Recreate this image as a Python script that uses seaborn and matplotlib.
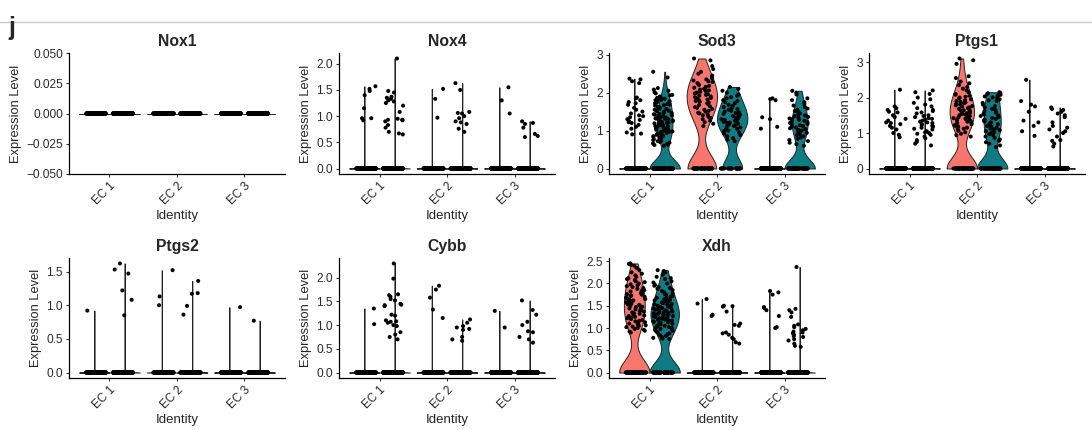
import numpy as np
import pandas as pd
import matplotlib
matplotlib.use("Agg")
import matplotlib.pyplot as plt
import seaborn as sns
from matplotlib.lines import Line2D
from matplotlib.ticker import FuncFormatter, MultipleLocator

sns.set_style("ticks")
plt.rcParams['font.family'] = ['Liberation Sans', 'DejaVu Sans']

clusters = ["EC 1", "EC 2", "EC 3"]
groups = ["A", "B"]
palette = {"A": "#F8766D", "B": "#0F7C84"}

# non-zero cells per cluster / group, zeros given as counts
# order of zero counts: EC1 A, EC1 B, EC2 A, EC2 B, EC3 A, EC3 B
nox1_zeros = [150, 150, 150, 150, 150, 150]

nox4_zeros = [150, 150, 150, 150, 150, 150]
nox4_ec1_a = [1.57, 1.52, 1.48, 1.40, 1.15, 0.96, 0.96, 0.92]
nox4_ec1_b = [2.10, 1.48, 1.45, 1.37, 1.35, 1.33, 1.30, 1.28, 1.25, 1.20, 1.08,
              0.95, 0.93, 0.93, 0.92, 0.90, 0.83, 0.78, 0.70, 0.67, 0.65]
nox4_ec2_a = [1.52, 1.33, 0.97]
nox4_ec2_b = [1.63, 1.50, 1.08, 1.06, 1.05, 1.00, 0.96, 0.90, 0.88, 0.85, 0.76, 0.70]
nox4_ec3_a = [1.55, 1.30, 1.05]
nox4_ec3_b = [0.90, 0.87, 0.85, 0.78, 0.66, 0.62, 0.60]

sod3_zeros = [150, 85, 35, 20, 150, 50]
sod3_ec1_a = [2.37, 2.35, 2.30, 2.25, 1.87, 1.85, 1.80, 1.75, 1.72, 1.68, 1.60, 1.55,
              1.50, 1.45, 1.40, 1.38, 1.35, 1.30, 1.28, 1.25, 1.22, 1.20, 1.15, 1.10,
              1.05, 0.95, 0.92, 0.90]
sod3_ec1_b = [2.55, 2.40, 2.12, 2.08, 2.05, 2.01, 1.98, 1.94, 1.93, 1.90, 1.87, 1.86,
              1.84, 1.81, 1.80, 1.79, 1.77, 1.74, 1.74, 1.72, 1.70, 1.69, 1.67, 1.66,
              1.63, 1.62, 1.61, 1.60, 1.58, 1.57, 1.55, 1.54, 1.52, 1.51, 1.50, 1.48,
              1.47, 1.46, 1.44, 1.43, 1.42, 1.40, 1.39, 1.38, 1.36, 1.35, 1.34, 1.32,
              1.31, 1.30, 1.29, 1.27, 1.26, 1.25, 1.24, 1.22, 1.21, 1.20, 1.19, 1.17,
              1.16, 1.15, 1.14, 1.12, 1.11, 1.10, 1.08, 1.07, 1.06, 1.05, 1.03, 1.02,
              1.01, 1.00, 0.98, 0.97, 0.96, 0.94, 0.93, 0.92, 0.90, 0.89, 0.88, 0.86,
              0.85, 0.84, 0.82, 0.80, 0.78, 0.77, 0.75, 0.73, 0.72, 0.70, 0.68, 0.66,
              0.65, 0.63, 0.62, 0.60]
sod3_ec2_a = [2.90, 2.85, 2.70, 2.62, 2.55, 2.50, 2.45, 2.42, 2.40, 2.38, 2.35, 2.32,
              2.30, 2.28, 2.25, 2.22, 2.20, 2.18, 2.15, 2.13, 2.10, 2.08, 2.06, 2.04,
              2.02, 2.00, 1.98, 1.96, 1.94, 1.92, 1.90, 1.88, 1.86, 1.84, 1.82, 1.80,
              1.78, 1.76, 1.74, 1.72, 1.70, 1.67, 1.64, 1.62, 1.60, 1.57, 1.55, 1.52,
              1.50, 1.47, 1.45, 1.42, 1.40, 1.36, 1.33, 1.30, 1.26, 1.22, 1.18, 1.12]
sod3_ec2_b = [2.15, 2.10, 2.05, 2.00, 1.95, 1.92, 1.88, 1.85, 1.80, 1.78, 1.75, 1.72,
              1.68, 1.65, 1.62, 1.60, 1.57, 1.55, 1.52, 1.50, 1.48, 1.46, 1.44, 1.42,
              1.40, 1.38, 1.36, 1.35, 1.33, 1.31, 1.30, 1.28, 1.26, 1.25, 1.23, 1.21,
              1.20, 1.18, 1.16, 1.14, 1.12, 1.10, 1.08, 1.05, 1.03, 1.00, 0.98, 0.95,
              0.92, 0.88, 0.85, 0.80, 0.76, 0.72]
sod3_ec3_a = [1.85, 1.83, 1.80, 1.35, 1.30, 1.10, 1.05]
sod3_ec3_b = [2.05, 2.00, 1.95, 1.85, 1.80, 1.75, 1.70, 1.66, 1.62, 1.58, 1.55, 1.52,
              1.50, 1.48, 1.45, 1.43, 1.40, 1.38, 1.36, 1.34, 1.32, 1.30, 1.28, 1.26,
              1.24, 1.22, 1.20, 1.18, 1.16, 1.14, 1.12, 1.10, 1.08, 1.06, 1.04, 1.02,
              1.00, 0.97, 0.94, 0.91, 0.88, 0.85, 0.82, 0.78, 0.75, 0.72, 0.68, 0.64, 0.60]

ptgs1_zeros = [150, 150, 45, 45, 150, 150]
ptgs1_ec1_a = [2.22, 1.75, 1.70, 1.65, 1.60, 1.58, 1.50, 1.45, 1.40, 1.35, 1.30, 1.28,
               1.25, 1.20, 1.15, 1.10, 1.00, 0.95, 0.88]
ptgs1_ec1_b = [2.20, 2.15, 2.10, 2.00, 1.95, 1.85, 1.80, 1.75, 1.70, 1.65, 1.62, 1.58,
               1.55, 1.50, 1.48, 1.45, 1.42, 1.40, 1.38, 1.35, 1.32, 1.30, 1.28, 1.25,
               1.22, 1.20, 1.18, 1.15, 1.12, 1.10, 1.05, 1.02, 1.00, 0.98, 0.95, 0.90,
               0.85, 0.80, 0.75, 0.70, 0.65]
ptgs1_ec2_a = [3.10, 3.05, 2.95, 2.60, 2.55, 2.45, 2.40, 2.35, 2.30, 2.25, 2.20, 2.15,
               2.10, 2.08, 2.05, 2.02, 2.00, 1.98, 1.95, 1.92, 1.90, 1.88, 1.86, 1.84,
               1.82, 1.80, 1.78, 1.76, 1.74, 1.72, 1.70, 1.68, 1.66, 1.64, 1.62, 1.60,
               1.58, 1.56, 1.54, 1.52, 1.50, 1.48, 1.46, 1.44, 1.42, 1.40, 1.38, 1.36,
               1.34, 1.32, 1.30, 1.28, 1.25, 1.22, 1.20, 1.18, 1.15, 1.12, 1.10, 1.06,
               1.02, 0.98, 0.94, 0.90]
ptgs1_ec2_b = [2.15, 2.13, 2.12, 2.10, 2.08, 2.07, 2.05, 2.03, 2.00, 1.98, 1.95, 1.92,
               1.90, 1.85, 1.80, 1.76, 1.72, 1.68, 1.65, 1.62, 1.58, 1.55, 1.52, 1.50,
               1.48, 1.45, 1.42, 1.40, 1.38, 1.35, 1.32, 1.30, 1.28, 1.25, 1.22, 1.20,
               1.18, 1.15, 1.12, 1.10, 1.08, 1.05, 1.02, 1.00, 0.97, 0.94, 0.90, 0.86,
               0.82, 0.78, 0.74, 0.70, 0.65, 0.60]
ptgs1_ec3_a = [2.50, 1.90, 1.80, 1.75, 1.60, 1.35, 1.30, 1.20, 1.05, 0.92]
ptgs1_ec3_b = [1.72, 1.68, 1.65, 1.60, 1.55, 1.50, 1.45, 1.30, 1.20, 1.15, 1.10, 1.05,
               1.00, 0.90, 0.80, 0.78, 0.70, 0.62]

ptgs2_zeros = [150, 150, 150, 150, 150, 150]
ptgs2_ec1_a = [0.92]
ptgs2_ec1_b = [1.62, 1.53, 1.47, 1.22, 1.08, 0.85]
ptgs2_ec2_a = [1.52, 1.13, 1.00]
ptgs2_ec2_b = [1.36, 1.18, 1.17, 0.99, 0.86]
ptgs2_ec3_a = [0.97]
ptgs2_ec3_b = [0.77]

cybb_zeros = [150, 150, 150, 150, 150, 150]
cybb_ec1_a = [1.35, 1.02]
cybb_ec1_b = [2.30, 1.98, 1.65, 1.63, 1.60, 1.55, 1.52, 1.45, 1.43, 1.42, 1.40, 1.22,
              1.20, 1.10, 1.08, 1.07, 1.05, 1.00, 0.98, 0.85, 0.80, 0.75, 0.70]
cybb_ec2_a = [1.83, 1.75, 1.58, 1.33, 1.15]
cybb_ec2_b = [1.12, 1.05, 0.98, 0.95, 0.92, 0.90, 0.75, 0.70, 0.67]
cybb_ec3_a = [1.30, 0.95]
cybb_ec3_b = [1.52, 1.32, 1.22, 1.07, 1.00, 0.87, 0.85, 0.75, 0.70, 0.63]

xdh_zeros = [60, 55, 150, 150, 150, 150]
xdh_ec1_a = [2.45, 2.44, 2.42, 2.40, 2.35, 2.30, 2.25, 2.22, 2.18, 2.15, 2.12, 2.10,
             2.08, 2.05, 2.03, 2.00, 1.98, 1.96, 1.94, 1.92, 1.90, 1.88, 1.86, 1.85,
             1.83, 1.82, 1.80, 1.78, 1.76, 1.75, 1.73, 1.72, 1.70, 1.68, 1.66, 1.65,
             1.63, 1.62, 1.60, 1.58, 1.56, 1.55, 1.53, 1.52, 1.50, 1.48, 1.47, 1.45,
             1.44, 1.42, 1.40, 1.38, 1.37, 1.35, 1.33, 1.32, 1.30, 1.28, 1.27, 1.25,
             1.23, 1.22, 1.20, 1.18, 1.16, 1.15, 1.13, 1.12, 1.10, 1.08, 1.06, 1.05,
             1.03, 1.02, 1.00, 0.98, 0.96, 0.94, 0.92, 0.90]
xdh_ec1_b = [2.30, 2.28, 2.25, 2.20, 2.15, 2.12, 2.10, 2.05, 2.02, 2.00, 1.97, 1.95,
             1.92, 1.90, 1.88, 1.85, 1.83, 1.80, 1.78, 1.76, 1.74, 1.72, 1.70, 1.68,
             1.66, 1.65, 1.63, 1.62, 1.60, 1.58, 1.57, 1.56, 1.54, 1.53, 1.52, 1.50,
             1.49, 1.48, 1.47, 1.46, 1.45, 1.44, 1.43, 1.42, 1.41, 1.40, 1.39, 1.38,
             1.37, 1.36, 1.35, 1.34, 1.33, 1.32, 1.31, 1.30, 1.29, 1.28, 1.27, 1.26,
             1.25, 1.24, 1.23, 1.22, 1.21, 1.20, 1.19, 1.18, 1.17, 1.16, 1.15, 1.14,
             1.13, 1.12, 1.10, 1.09, 1.08, 1.06, 1.05, 1.04, 1.02, 1.01, 1.00, 0.98,
             0.97, 0.96, 0.94, 0.92, 0.90, 0.88, 0.86, 0.84, 0.82, 0.80, 0.78, 0.76, 0.75]
xdh_ec2_a = [1.65, 1.55, 1.30, 1.27]
xdh_ec2_b = [1.50, 1.49, 1.48, 1.37, 1.10, 1.07, 1.05, 0.90, 0.88, 0.85, 0.78, 0.75,
             0.68, 0.65]
xdh_ec3_a = [1.83, 1.80, 1.75, 1.47, 1.45, 1.40, 1.27, 1.02, 1.00]
xdh_ec3_b = [2.37, 1.43, 1.40, 1.35, 1.25, 1.08, 1.05, 1.02, 0.98, 0.95, 0.92, 0.90,
             0.88, 0.85, 0.82, 0.80, 0.75, 0.72, 0.65, 0.60, 0.58]

genes = ["Nox1", "Nox4", "Sod3", "Ptgs1", "Ptgs2", "Cybb", "Xdh"]
gene_values = {
    "Nox1": ([[], [], [], [], [], []], nox1_zeros),
    "Nox4": ([nox4_ec1_a, nox4_ec1_b, nox4_ec2_a, nox4_ec2_b, nox4_ec3_a, nox4_ec3_b], nox4_zeros),
    "Sod3": ([sod3_ec1_a, sod3_ec1_b, sod3_ec2_a, sod3_ec2_b, sod3_ec3_a, sod3_ec3_b], sod3_zeros),
    "Ptgs1": ([ptgs1_ec1_a, ptgs1_ec1_b, ptgs1_ec2_a, ptgs1_ec2_b, ptgs1_ec3_a, ptgs1_ec3_b], ptgs1_zeros),
    "Ptgs2": ([ptgs2_ec1_a, ptgs2_ec1_b, ptgs2_ec2_a, ptgs2_ec2_b, ptgs2_ec3_a, ptgs2_ec3_b], ptgs2_zeros),
    "Cybb": ([cybb_ec1_a, cybb_ec1_b, cybb_ec2_a, cybb_ec2_b, cybb_ec3_a, cybb_ec3_b], cybb_zeros),
    "Xdh": ([xdh_ec1_a, xdh_ec1_b, xdh_ec2_a, xdh_ec2_b, xdh_ec3_a, xdh_ec3_b], xdh_zeros),
}
tick_step = {"Nox1": 0.025, "Nox4": 0.5, "Sod3": 1, "Ptgs1": 1, "Ptgs2": 0.5, "Cybb": 0.5, "Xdh": 0.5}
tick_fmt = {"Nox1": "{:.3f}", "Nox4": "{:.1f}", "Sod3": "{:.0f}", "Ptgs1": "{:.0f}",
            "Ptgs2": "{:.1f}", "Cybb": "{:.1f}", "Xdh": "{:.1f}"}


def make_frame(lists, zeros):
    rows = []
    k = 0
    for c in clusters:
        for g in groups:
            for v in [0.0] * zeros[k] + list(lists[k]):
                rows.append((c, g, v))
            k += 1
    return pd.DataFrame(rows, columns=["cluster", "group", "value"])


def bw_factor(v):
    # ggplot-like bw.nrd0, expressed as a factor of the sd for seaborn
    v = np.asarray(v, float)
    sd = v.std(ddof=1)
    if sd == 0:
        return None
    iqr = np.percentile(v, 75) - np.percentile(v, 25)
    lo = min(sd, iqr / 1.34)
    bw = 0.9 * lo * len(v) ** -0.2 if lo > 0 else 1e-3
    return bw / sd


fig = plt.figure(figsize=(10.92, 4.30), dpi=100)
W, H = 1092, 430
boxes = {
    "Nox1": (69, 53, 174), "Nox4": (339, 53, 174), "Sod3": (609, 53, 174), "Ptgs1": (869, 53, 174),
    "Ptgs2": (69, 258, 378), "Cybb": (339, 258, 378), "Xdh": (609, 258, 378),
}

np.random.seed(3)
for gene in genes:
    lists, zeros = gene_values[gene]
    df = make_frame(lists, zeros)
    x0, top, bot = boxes[gene]
    ax = fig.add_axes([x0 / W, 1 - bot / H, 216 / W, (bot - top) / H])

    for c in clusters:
        for g in groups:
            sub = df[(df.cluster == c) & (df.group == g)]
            f = bw_factor(sub.value)
            kw = {} if f is None else {"bw_method": f}
            try:
                sns.violinplot(data=sub, x="cluster", y="value", hue="group", order=clusters,
                               hue_order=groups, palette=palette, width=0.9, gap=0, dodge=True,
                               saturation=1, density_norm="width", cut=0, inner=None,
                               linewidth=0.7, linecolor="#222222", legend=False, ax=ax, **kw)
            except Exception:
                pass

    sns.stripplot(data=df, x="cluster", y="value", hue="group", order=clusters,
                  hue_order=groups, palette={"A": "black", "B": "black"}, dodge=True,
                  jitter=0.3, size=2.9, linewidth=0, legend=False, ax=ax)

    vmax = df.value.max()
    if vmax == 0:
        ax.set_ylim(-0.05, 0.05)
    else:
        ax.set_ylim(-0.05 * vmax, 1.05 * vmax)
    ax.set_xlim(-0.6, 2.6)
    ax.yaxis.set_major_locator(MultipleLocator(tick_step[gene]))
    fmt = tick_fmt[gene]
    ax.yaxis.set_major_formatter(FuncFormatter(lambda v, p, fmt=fmt: fmt.format(v).replace("-", "\u2212")))

    sns.despine(ax=ax)
    for s in ["left", "bottom"]:
        ax.spines[s].set_linewidth(0.9)
        ax.spines[s].set_color("black")
    ax.tick_params(axis="both", length=2.5, width=0.8, color="#333333", labelsize=8.6,
                   labelcolor="#2a2a2a", pad=2)
    ax.set_xticks(range(3))
    ax.set_xticklabels(clusters, rotation=45, ha="right", rotation_mode="anchor")
    ax.set_title(gene, fontsize=11.3, fontweight="bold", pad=5)
    ax.set_xlabel("Identity", fontsize=9.5, labelpad=2)
    ax.set_ylabel("Expression Level", fontsize=9.3, labelpad=3)

fig.add_artist(Line2D([0, 1], [1 - 22 / H, 1 - 22 / H], color="#c8c8c8", linewidth=1))
fig.text(8 / W, 1 - 28 / H, "j", fontsize=18, fontweight="bold", va="center", ha="left")

fig.savefig("out.png", dpi=100)
